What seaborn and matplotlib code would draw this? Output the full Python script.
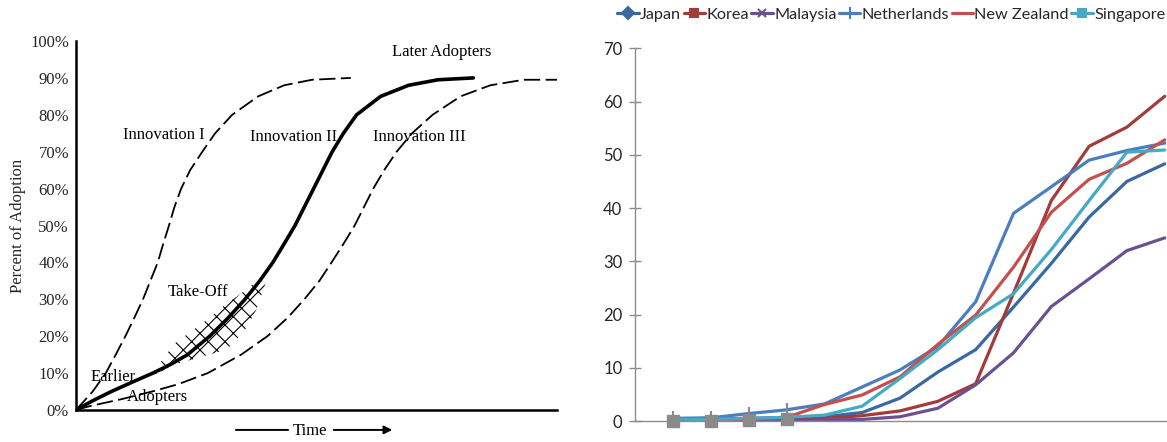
import numpy as np
import pandas as pd
import matplotlib
matplotlib.use("Agg")
import matplotlib.pyplot as plt
from matplotlib.lines import Line2D
from matplotlib.patches import Polygon
import seaborn as sns

# ---- left panel: diffusion curves (x in time units, y in % adopted)
inno1_x = [0, 0.52, 0.93, 1.24, 1.54, 1.82, 2.09, 2.32, 2.55, 2.72, 2.9, 3.07, 3.28,
           3.56, 3.94, 4.34, 4.87, 5.68, 6.49, 7.36, 8.57]
inno1_y = [0, 5, 10, 15, 20, 25, 30, 35, 40, 45, 50, 55, 60, 65, 70, 75, 80, 85, 88, 89.5, 90]

inno2_x = [0, 0.52, 1.1, 1.74, 2.4, 2.98, 3.48, 4.17, 4.75, 5.27, 5.73, 6.14, 6.49,
           6.83, 7.12, 7.41, 7.7, 7.99, 8.34, 8.75, 9.5, 10.37, 11.29, 12.39]
inno2_y = [0, 2.5, 5, 7.5, 10, 12.5, 15, 20, 25, 30, 35, 40, 45, 50, 55, 60, 65, 70,
           75, 80, 85, 88, 89.5, 90]

inno3_x = [0, 0.41, 1.45, 2.37, 3.19, 4.11, 5.15, 5.97, 6.6, 7.12, 7.59, 7.97, 8.34,
           8.69, 8.98, 9.27, 9.61, 10.0, 10.48, 11.12, 11.99, 12.92, 13.96, 15.0]
inno3_y = [0, 1, 3, 5, 7, 10, 15, 20, 25, 30, 35, 40, 45, 50, 55, 60, 65, 70, 75, 80,
           85, 88, 89.5, 89.5]

takeoff_zone = [(2.3, 9.0), (3.07, 18), (3.94, 23.5), (4.58, 28), (5.15, 31.6),
                (5.74, 35.7), (5.91, 34.3), (5.62, 27.1), (5.27, 21.7), (4.69, 16.3),
                (4.11, 14.9), (3.19, 12.6)]
pct_ticks = list(range(0, 101, 10))
pct_labels = [f"{v}%" for v in pct_ticks]

# ---- right panel: country series
countries = ["Japan", "Korea", "Malaysia", "Netherlands", "New Zealand", "Singapore"]
japan = [0.3, 0.4, 0.5, 0.6, 0.8, 1.6, 4.3, 9.2, 13.4, 21.4, 29.6, 38.3, 45.0, 48.3]
korea = [0.0, 0.0, 0.1, 0.3, 0.5, 1.0, 1.9, 3.7, 7.0, 24.0, 41.4, 51.6, 55.2, 61.0]
malaysia = [0.0, 0.0, 0.0, 0.1, 0.2, 0.3, 0.8, 2.4, 6.8, 12.8, 21.5, 26.7, 32.0, 34.4]
netherlands = [0.5, 0.6, 1.4, 2.1, 3.2, 6.4, 9.6, 14.0, 22.4, 39.0, 44.0, 49.0, 50.8, 52.2]
new_zealand = [0.1, 0.2, 0.4, 0.7, 3.1, 4.9, 8.3, 14.4, 19.9, 28.9, 39.2, 45.4, 48.4, 52.8]
singapore = [0.3, 0.3, 0.5, 0.7, 1.1, 2.8, 8.0, 13.4, 19.4, 23.9, 32.2, 41.4, 50.5, 50.9]
periods = list(range(len(japan)))
colors = ["#3a68a0", "#a23b39", "#6c5192", "#4a7ebf", "#c4504d", "#45abc5"]
legend_markers = ["D", "s", "x", "|", None, "s"]

df = pd.DataFrame({
    "period": periods * 6,
    "country": np.repeat(countries, len(periods)),
    "value": japan + korea + malaysia + netherlands + new_zealand + singapore,
})

sns.set_style("white")
plt.rcParams["hatch.linewidth"] = 0.8
fig = plt.figure(figsize=(11.67, 4.42), dpi=100)

# ================= left
ax1 = fig.add_axes([0.0651, 0.0724, 0.4122, 0.8348])
serif = "Liberation Serif"
sns.lineplot(x=inno1_x, y=inno1_y, ax=ax1, color="black", lw=1.3,
             linestyle=(0, (9, 3)), estimator=None, sort=False)
sns.lineplot(x=inno2_x, y=inno2_y, ax=ax1, color="black", lw=2.6,
             estimator=None, sort=False)
sns.lineplot(x=inno3_x, y=inno3_y, ax=ax1, color="black", lw=1.3,
             linestyle=(0, (9, 3)), estimator=None, sort=False)
ax1.add_patch(Polygon(takeoff_zone, closed=True, fill=False, hatch="xx",
                      edgecolor="black", linewidth=0))

ax1.set_xlim(0, 15)
ax1.set_ylim(0, 100)
ax1.set_xticks(range(1, 16))
ax1.set_xticklabels([])
ax1.set_yticks(pct_ticks)
ax1.set_yticklabels(pct_labels, family=serif, fontsize=12)
ax1.tick_params(axis="x", direction="in", length=4, width=1.2, color="black")
ax1.tick_params(axis="y", direction="out", length=3, width=1.2, color="black", pad=2)
for s in ["top", "right"]:
    ax1.spines[s].set_visible(False)
for s in ["left", "bottom"]:
    ax1.spines[s].set_color("black")
    ax1.spines[s].set_linewidth(1.8)
ax1.set_ylabel("Percent of Adoption", family=serif, fontsize=12, labelpad=3)

txt = dict(family=serif, fontsize=12, color="black")
ax1.text(11.4, 97, "Later Adopters", ha="center", va="center", **txt)
ax1.text(2.75, 74.5, "Innovation I", ha="center", va="center", **txt)
ax1.text(6.8, 74, "Innovation II", ha="center", va="center", **txt)
ax1.text(10.7, 74, "Innovation III", ha="center", va="center", **txt)
ax1.text(3.8, 32, "Take-Off", ha="center", va="center", **txt)
ax1.text(0.45, 9.0, "Earlier", ha="left", va="center", **txt)
ax1.text(1.6, 3.6, "Adopters", ha="left", va="center", **txt)
ax1.text(7.3, -5.6, "Time", ha="center", va="center", **txt)
ax1.annotate("", xy=(6.7, -5.4), xytext=(4.9, -5.4), annotation_clip=False,
             arrowprops=dict(arrowstyle="-", color="black", lw=1.4))
ax1.annotate("", xy=(9.95, -5.4), xytext=(7.95, -5.4), annotation_clip=False,
             arrowprops=dict(arrowstyle="-|>", color="black", lw=1.4,
                             mutation_scale=12))

# ================= right
ax2 = fig.add_axes([0.5441, 0.0475, 0.4559, 0.8432])
sns.lineplot(data=df, x="period", y="value", hue="country", palette=colors,
             hue_order=countries, lw=2.3, ax=ax2, legend=False,
             estimator=None, sort=False)
# grey markers at the first four periods
ax2.plot(periods[:4], netherlands[:4], ls="none", marker="|", ms=10,
         mew=1.5, color="#8a8a8a", zorder=5, clip_on=False)
ax2.plot(periods[:4], korea[:4], ls="none", marker="s", ms=8.5,
         color="#8a8a8a", zorder=6, clip_on=False)

ax2.set_xlim(-1.013, 13.06)
ax2.set_ylim(0, 70)
ax2.set_yticks(range(0, 71, 10))
ax2.set_yticklabels([str(v) for v in range(0, 71, 10)], family="Lato", fontsize=12)
ax2.set_xticks([])
ax2.set_xlabel("")
ax2.set_ylabel("")
ax2.tick_params(axis="y", direction="inout", length=8, width=1, color="#8c8c8c",
                pad=5, left=True)
for s in ["top", "right"]:
    ax2.spines[s].set_visible(False)
for s in ["left", "bottom"]:
    ax2.spines[s].set_color("#8c8c8c")
    ax2.spines[s].set_linewidth(1.0)

handles = [Line2D([0], [0], color=c, lw=2.3, marker=m, ms=6 if m != "|" else 8,
                  mew=1.5) for c, m in zip(colors, legend_markers)]
fig.legend(handles, countries, loc="upper right", bbox_to_anchor=(1.007, 1.005),
           ncol=6, frameon=False, prop={"family": "Lato", "size": 11.7},
           handlelength=1.3, handletextpad=0.1, columnspacing=0.15,
           borderaxespad=0.2)

fig.savefig("out.png", dpi=100)
